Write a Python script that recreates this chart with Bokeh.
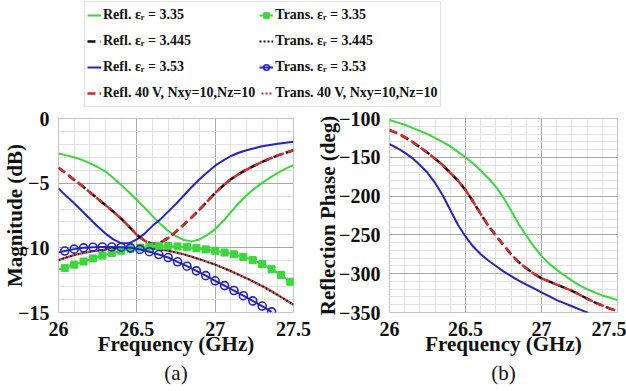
from bokeh.plotting import figure
from bokeh.models import (ColumnDataSource, Legend, LegendItem, SingleIntervalTicker,
                          NumeralTickFormatter, Range1d, Title)
from bokeh.layouts import column, row
from bokeh.embed import file_html
from bokeh.resources import INLINE

# ---------------- data ----------------
freq_r = [26.00, 26.05, 26.10, 26.15, 26.20, 26.25, 26.30, 26.35, 26.40, 26.45, 26.50,
          26.55, 26.60, 26.65, 26.70, 26.75, 26.80, 26.85, 26.90, 26.95, 27.00,
          27.05, 27.10, 27.15, 27.20, 27.25, 27.30, 27.35, 27.40, 27.45, 27.50]

# reflection magnitude (dB)
refl_335 = [-2.7, -2.85, -3.0, -3.2, -3.45, -3.75, -4.1, -4.6, -5.15, -5.7, -6.3,
            -6.9, -7.55, -8.15, -8.7, -9.1, -9.4, -9.5, -9.35, -9.0, -8.55,
            -7.95, -7.25, -6.55, -5.95, -5.42, -4.98, -4.57, -4.2, -3.88, -3.6]
refl_3445 = [-3.8, -4.25, -4.75, -5.2, -5.7, -6.2, -6.7, -7.2, -7.75, -8.35, -9.0,
             -9.45, -9.7, -9.6, -9.25, -8.75, -8.2, -7.65, -7.05, -6.4, -5.75,
             -5.2, -4.7, -4.3, -3.95, -3.65, -3.35, -3.1, -2.85, -2.65, -2.45]
refl_353 = [-5.4, -6.0, -6.55, -7.15, -7.75, -8.35, -8.9, -9.35, -9.65, -9.65, -9.35,
            -8.9, -8.3, -7.8, -7.2, -6.6, -5.95, -5.3, -4.7, -4.15, -3.65,
            -3.25, -2.9, -2.65, -2.45, -2.3, -2.15, -2.05, -1.95, -1.87, -1.8]
refl_40v = [-3.8, -4.25, -4.75, -5.2, -5.7, -6.2, -6.7, -7.2, -7.75, -8.35, -9.0,
            -9.45, -9.7, -9.6, -9.25, -8.75, -8.2, -7.65, -7.05, -6.4, -5.75,
            -5.2, -4.7, -4.3, -3.95, -3.65, -3.35, -3.1, -2.85, -2.65, -2.45]

# transmission magnitude (dB), marker series
freq_t = [26.00, 26.04, 26.10, 26.16, 26.22, 26.28, 26.34, 26.40, 26.46, 26.52, 26.58,
          26.64, 26.70, 26.76, 26.82, 26.88, 26.94, 27.00, 27.06, 27.12, 27.18,
          27.24, 27.30, 27.36, 27.42, 27.48, 27.50]
trans_335 = [-11.65, -11.55, -11.3, -11.06, -10.82, -10.6, -10.4, -10.23, -10.08, -9.98, -9.91,
             -9.87, -9.86, -9.89, -9.95, -10.03, -10.12, -10.23, -10.36, -10.5, -10.7,
             -10.95, -11.25, -11.65, -12.1, -12.62, -12.8]
trans_353 = [-10.35, -10.25, -10.1, -10.0, -9.95, -9.93, -9.93, -9.95, -10.0, -10.12, -10.3,
             -10.52, -10.75, -11.08, -11.42, -11.78, -12.15, -12.55, -12.92, -13.3, -13.7,
             -14.1, -14.5, -14.95]

# transmission magnitude (dB), dotted series
freq_d = [26.0, 26.1, 26.2, 26.3, 26.4, 26.5, 26.6, 26.7, 26.8, 26.9,
          27.0, 27.1, 27.2, 27.3, 27.4, 27.5]
trans_3445 = [-10.95, -10.55, -10.3, -10.12, -10.02, -10.0, -10.06, -10.22, -10.5, -10.88,
              -11.3, -11.8, -12.35, -12.95, -13.65, -14.4]
trans_40v = [-10.95, -10.55, -10.3, -10.12, -10.02, -10.0, -10.06, -10.22, -10.5, -10.88,
             -11.3, -11.8, -12.35, -12.95, -13.65, -14.4]

# reflection phase (deg)
phase_335 = [-102, -105, -108, -112, -116, -120, -125, -130, -136, -143, -150,
             -158, -167, -177, -188, -202, -219, -236, -251, -265, -277,
             -287, -295, -302, -309, -315, -320, -324, -328, -331, -334]
phase_3445 = [-115, -119, -124, -130, -137, -144, -152, -160, -170, -180, -192,
              -207, -223, -238, -251, -263, -275, -285, -293, -300, -306,
              -310, -314, -318, -322, -327, -332, -337, -341, -345, -348]
phase_40v = [-115, -119, -124, -130, -137, -144, -152, -160, -170, -180, -192,
             -207, -223, -238, -251, -263, -275, -285, -293, -300, -306,
             -310, -314, -318, -322, -327, -332, -337, -341, -345, -348]
freq_pb = [26.00, 26.05, 26.10, 26.15, 26.20, 26.25, 26.30, 26.35, 26.40, 26.45, 26.50,
           26.55, 26.60, 26.65, 26.70, 26.75, 26.80, 26.85, 26.90, 26.95, 27.00,
           27.05, 27.10, 27.15, 27.20, 27.25, 27.31]
phase_353 = [-133, -138, -144, -151, -160, -170, -183, -199, -218, -237, -252,
             -265, -275, -283, -290, -297, -303, -309, -314, -319, -324,
             -329, -334, -338, -342, -346, -351]

labels = {
    "r335": "Refl. \u03b5\u1d63 = 3.35",
    "r3445": "Refl. \u03b5\u1d63 = 3.445",
    "r353": "Refl. \u03b5\u1d63 = 3.53",
    "r40": "Refl. 40 V, Nxy=10,Nz=10",
    "t335": "Trans. \u03b5\u1d63 = 3.35",
    "t3445": "Trans. \u03b5\u1d63 = 3.445",
    "t353": "Trans. \u03b5\u1d63 = 3.53",
    "t40": "Trans. 40 V, Nxy=10,Nz=10",
}

GREEN = "#3ad83a"
BLUE = "#2424c4"
RED = "#d62a2a"
BLACK = "#111111"
SERIF = "Liberation Serif"


def src(x, y):
    return ColumnDataSource(data=dict(x=list(x), y=list(y)))


def draw(fig, key, x, y, mk=None):
    """Draw one series with its style; returns renderers (for legends)."""
    rs = []
    if key == "r335":
        rs.append(fig.line("x", "y", source=src(x, y), color=GREEN, line_width=2))
    elif key == "r353":
        rs.append(fig.line("x", "y", source=src(x, y), color=BLUE, line_width=2))
    elif key == "r3445":
        rs.append(fig.line("x", "y", source=src(x, y), color=BLACK, line_width=2.5,
                           line_dash="8 5"))
    elif key == "r40":
        rs.append(fig.line("x", "y", source=src(x, y), color=RED, line_width=2.5,
                           line_dash="8 4"))
    elif key == "t3445":
        rs.append(fig.line("x", "y", source=src(x, y), color=BLACK, line_width=2.2,
                           line_dash="2 2"))
    elif key == "t40":
        rs.append(fig.line("x", "y", source=src(x, y), color=RED, line_width=2.2,
                           line_dash="2 2", line_dash_offset=2))
    elif key == "t335":
        rs.append(fig.line("x", "y", source=src(x, y), color=GREEN, line_width=2))
        mx, my = (x, y) if mk is None else mk
        rs.append(fig.scatter("x", "y", source=src(mx, my), marker="square", size=7,
                              fill_color=GREEN, line_color=GREEN))
    elif key == "t353":
        rs.append(fig.line("x", "y", source=src(x, y), color=BLUE, line_width=2))
        mx, my = (x, y) if mk is None else mk
        rs.append(fig.scatter("x", "y", source=src(mx, my), marker="circle", size=8,
                              fill_color=None, line_color=BLUE, line_width=1.6))
    return rs


def style_axes(p, ylabel, ystep, ystandoff):
    p.xaxis.ticker = SingleIntervalTicker(interval=0.5, num_minor_ticks=5)
    p.yaxis.ticker = SingleIntervalTicker(interval=ystep, num_minor_ticks=5)
    p.xaxis.formatter = NumeralTickFormatter(format="0.[0]")
    p.xaxis.axis_label = "Frequency (GHz)"
    p.yaxis.axis_label = ylabel
    for ax in (p.xaxis, p.yaxis):
        ax.axis_line_color = None
        ax.major_tick_line_color = None
        ax.minor_tick_line_color = None
        ax.major_label_text_font = SERIF
        ax.major_label_text_font_style = "bold"
        ax.major_label_text_font_size = "20px"
        ax.major_label_text_color = BLACK
        ax.axis_label_text_font = SERIF
        ax.axis_label_text_font_style = "bold"
        ax.axis_label_text_font_size = "21px"
        ax.axis_label_text_color = BLACK
    p.xaxis.major_label_standoff = 3
    p.yaxis.major_label_standoff = 3
    p.xaxis.axis_label_standoff = -7
    p.yaxis.axis_label_standoff = ystandoff
    p.xgrid.grid_line_color = "#a8a8a8"
    p.ygrid.grid_line_color = "#a8a8a8"
    p.xgrid.minor_grid_line_color = "#e2e2e2"
    p.ygrid.minor_grid_line_color = "#e2e2e2"
    p.outline_line_color = "#c4c4c4"
    p.outline_line_width = 1
    p.background_fill_color = "white"
    p.border_fill_color = "white"


def caption(p, text):
    t = Title(text=text, align="center", text_font=SERIF, text_font_style="normal",
              text_font_size="21px", text_color=BLACK, standoff=0)
    p.add_layout(t, "below")


# all series: key -> (x, y, marker subset)
n353 = len(trans_353)
mag_series = [
    ("r335", freq_r, refl_335, None),
    ("r353", freq_r, refl_353, None),
    ("r3445", freq_r, refl_3445, None),
    ("r40", freq_r, refl_40v, None),
    ("t3445", freq_d, trans_3445, None),
    ("t40", freq_d, trans_40v, None),
    ("t335", freq_t, trans_335, (freq_t[1:-1], trans_335[1:-1])),
    ("t353", freq_t[:n353], trans_353, (freq_t[1:n353], trans_353[1:])),
]

# ---------------- legend figure (series drawn outside its view, only the legend shows) ----
p0 = figure(width=626, height=107, x_range=Range1d(0, 1), y_range=Range1d(0, 1),
            toolbar_location=None, output_backend="svg", x_axis_type=None,
            y_axis_type=None, min_border=0)
p0.grid.visible = False
p0.outline_line_color = None
leg_r = {}
for key, x, y, mk in mag_series:
    leg_r[key] = draw(p0, key, x, y, mk)
order = ["r335", "r3445", "r353", "r40", "t335", "t3445", "t353", "t40"]
items = [LegendItem(label=labels[k], renderers=leg_r[k]) for k in order]
leg = Legend(items=items, location=(84, 0), orientation="vertical", ncols=2,
             label_text_font=SERIF, label_text_font_style="bold",
             label_text_font_size="14px", label_text_color=BLACK,
             glyph_width=14, glyph_height=22, label_height=22, label_standoff=2,
             padding=2, spacing=4, margin=0,
             border_line_color="#c8c8c8", border_line_width=1.5,
             background_fill_color="white", background_fill_alpha=1)
p0.add_layout(leg, "center")

# ---------------- (a) magnitude ----------------
p1 = figure(width=313, height=284, x_range=Range1d(26, 27.5), y_range=Range1d(-15, 0),
            toolbar_location=None, output_backend="svg",
            min_border_left=57, min_border_right=20, min_border_top=11, min_border_bottom=79)
style_axes(p1, "Magnitude (dB)", 5, -12)
for key, x, y, mk in mag_series:
    draw(p1, key, x, y, mk)
caption(p1, "(a)")

# ---------------- (b) phase ----------------
p2 = figure(width=313, height=284, x_range=Range1d(26, 27.5), y_range=Range1d(-350, -100),
            toolbar_location=None, output_backend="svg",
            min_border_left=68, min_border_right=9, min_border_top=11, min_border_bottom=79)
style_axes(p2, "Reflection Phase (deg)", 50, -4)
draw(p2, "r335", freq_r, phase_335)
draw(p2, "r353", freq_pb, phase_353)
draw(p2, "r3445", freq_r, phase_3445)
draw(p2, "r40", freq_r, phase_40v)
caption(p2, "(b)")

layout = column(p0, row(p1, p2, spacing=0), spacing=0)
open("out.html", "w").write(file_html(layout, INLINE))
